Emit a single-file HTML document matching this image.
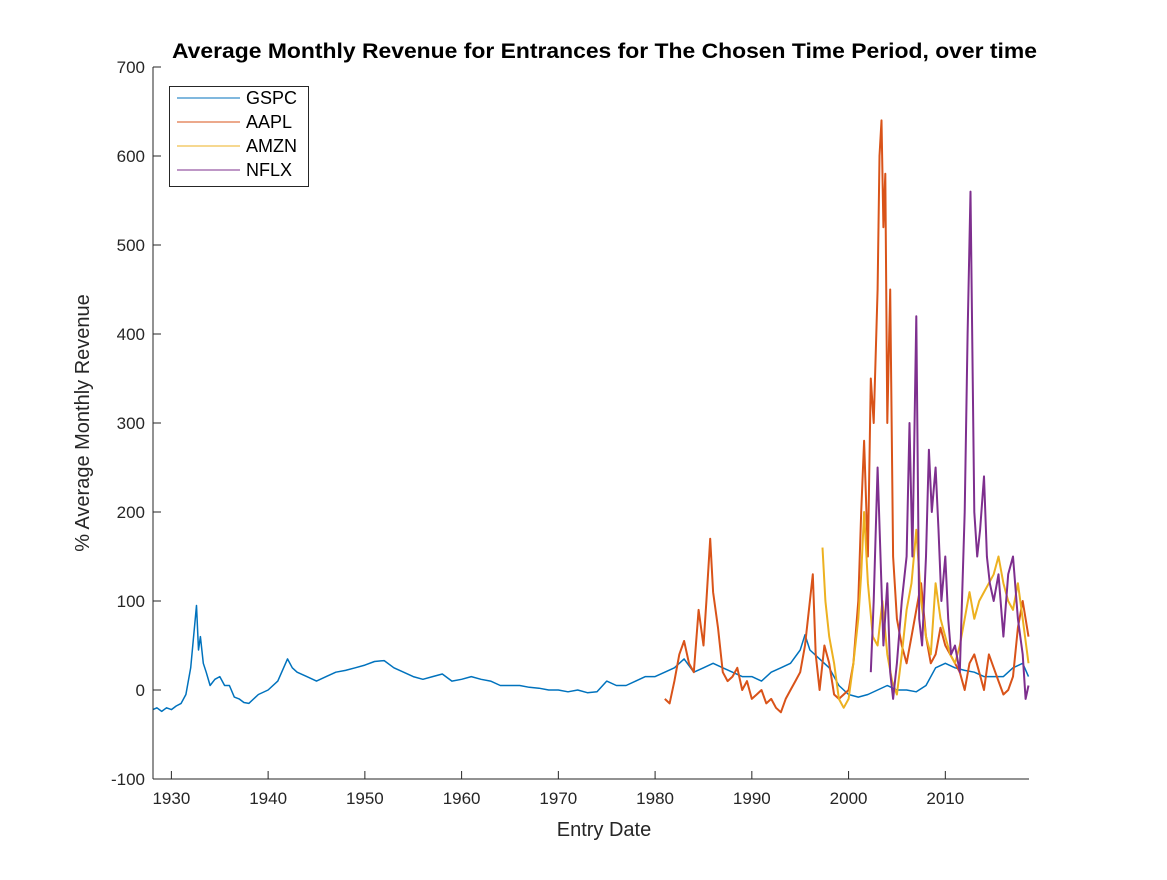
<!DOCTYPE html>
<html><head><meta charset="utf-8"><style>
body{margin:0;background:#fff;}
svg text{font-family:"Liberation Sans",Arial,sans-serif;fill:#262626;}
</style></head><body>
<svg id="chart" width="1167" height="875" viewBox="0 0 1167 875" xmlns="http://www.w3.org/2000/svg">
<rect width="1167" height="875" fill="#fff"/>
<text x="172" y="58" textLength="865" lengthAdjust="spacingAndGlyphs" font-size="21.5" font-weight="bold" style="fill:#000">Average Monthly Revenue for Entrances for The Chosen Time Period, over time</text>
<g id="series"></g>
<g id="axes"></g>
<text x="604" y="836" text-anchor="middle" font-size="20">Entry Date</text>
<text transform="translate(89,423) rotate(-90)" text-anchor="middle" font-size="20">% Average Monthly Revenue</text>
<g id="legend"></g>
</svg>
<script>
const xTicks=[1930,1940,1950,1960,1970,1980,1990,2000,2010];
const yTicks=[-100,0,100,200,300,400,500,600,700];
const seriesNames=["GSPC","AAPL","AMZN","NFLX"];
const gspcDates=[1928.1,1928.5,1929,1929.5,1930,1930.5,1931,1931.5,1932,1932.3,1932.6,1932.8,1933,1933.3,1933.6,1934,1934.5,1935,1935.5,1936,1936.5,1937,1937.5,1938,1939,1940,1941,1942,1942.5,1943,1944,1945,1946,1947,1948,1949,1950,1951,1952,1953,1954,1955,1956,1957,1958,1959,1960,1961,1962,1963,1964,1965,1966,1967,1968,1969,1970,1971,1972,1973,1974,1975,1976,1977,1978,1979,1980,1981,1982,1983,1984,1985,1986,1987,1988,1989,1990,1991,1992,1993,1994,1995,1995.5,1996,1997,1998,1999,2000,2001,2002,2003,2004,2005,2006,2007,2008,2009,2010,2011,2012,2013,2014,2015,2016,2017,2018,2018.6];
const gspcValues=[-22,-20,-24,-20,-22,-18,-15,-5,25,60,95,45,60,30,20,5,12,15,5,5,-8,-10,-14,-15,-5,0,10,35,25,20,15,10,15,20,22,25,28,32,33,25,20,15,12,15,18,10,12,15,12,10,5,5,5,3,2,0,0,-2,0,-3,-2,10,5,5,10,15,15,20,25,35,20,25,30,25,20,15,15,10,20,25,30,45,62,45,35,25,5,-5,-8,-5,0,5,0,0,-2,5,25,30,25,22,20,15,15,15,25,30,15];
const aaplDates=[1981,1981.5,1982,1982.5,1983,1983.5,1984,1984.5,1985,1985.3,1985.7,1986,1986.5,1987,1987.5,1988,1988.5,1989,1989.5,1990,1990.5,1991,1991.5,1992,1992.5,1993,1993.5,1994,1994.5,1995,1995.5,1996,1996.3,1996.6,1997,1997.5,1998,1998.5,1999,1999.5,2000,2000.5,2001,2001.3,2001.6,2002,2002.3,2002.6,2003,2003.2,2003.4,2003.6,2003.8,2004,2004.3,2004.6,2005,2005.5,2006,2006.5,2007,2007.5,2008,2008.5,2009,2009.5,2010,2010.5,2011,2011.5,2012,2012.5,2013,2013.5,2014,2014.5,2015,2015.5,2016,2016.5,2017,2017.5,2018,2018.6];
const aaplValues=[-10,-15,10,40,55,30,20,90,50,100,170,110,70,20,10,15,25,0,10,-10,-5,0,-15,-10,-20,-25,-10,0,10,20,50,100,130,40,0,50,30,-5,-10,-5,0,30,100,200,280,150,350,300,450,600,640,520,580,300,450,150,80,50,30,60,90,120,60,30,40,70,50,40,30,20,0,30,40,20,0,40,25,10,-5,0,15,70,100,60];
const amznDates=[1997.3,1997.6,1998,1998.5,1999,1999.5,2000,2000.5,2001,2001.3,2001.6,2002,2002.5,2003,2003.5,2004,2004.5,2005,2005.5,2006,2006.5,2007,2007.5,2008,2008.5,2009,2009.5,2010,2010.5,2011,2011.5,2012,2012.5,2013,2013.5,2014,2014.5,2015,2015.5,2016,2016.5,2017,2017.5,2018,2018.6];
const amznValues=[160,100,60,30,-10,-20,-10,30,80,130,200,120,60,50,100,40,10,-5,40,90,120,180,100,60,40,120,80,60,40,30,50,80,110,80,100,110,120,130,150,120,100,90,120,80,30];
const nflxDates=[2002.3,2002.6,2003,2003.3,2003.6,2004,2004.3,2004.6,2005,2005.5,2006,2006.3,2006.6,2007,2007.3,2007.6,2008,2008.3,2008.6,2009,2009.3,2009.6,2010,2010.3,2010.6,2011,2011.5,2012,2012.3,2012.6,2013,2013.3,2013.6,2014,2014.3,2014.6,2015,2015.5,2016,2016.5,2017,2017.5,2018,2018.3,2018.6];
const nflxValues=[20,100,250,150,50,120,20,-10,30,100,150,300,150,420,80,50,150,270,200,250,180,100,150,80,40,50,20,200,400,560,200,150,180,240,150,120,100,130,60,130,150,80,40,-10,5];

const L=153,R=1029,T=67,B=779;
const xMin=1928.1,xMax=2018.65,yMin=-100,yMax=700;
const sx=v=>L+(v-xMin)/(xMax-xMin)*(R-L);
const sy=v=>B-(v-yMin)/(yMax-yMin)*(B-T);
const NS="http://www.w3.org/2000/svg";
const colors=["#0072BD","#D95319","#EDB120","#7E2F8E"];
const allDates=[gspcDates,aaplDates,amznDates,nflxDates];
const allVals=[gspcValues,aaplValues,amznValues,nflxValues];
const sg=document.getElementById('series');
for(let s=0;s<4;s++){
  const p=document.createElementNS(NS,'polyline');
  p.setAttribute('points',allDates[s].map((d,i)=>sx(d).toFixed(1)+','+sy(allVals[s][i]).toFixed(1)).join(' '));
  p.setAttribute('fill','none');p.setAttribute('stroke',colors[s]);p.setAttribute('stroke-width',s==0?'1.5':'2');
  p.setAttribute('stroke-linejoin','round');
  
  
  sg.appendChild(p);
}
const ax=document.getElementById('axes');
let h=`<line x1="${L}" y1="${T}" x2="${L}" y2="${B}" stroke="#262626"/><line x1="${L}" y1="${B}" x2="${R}" y2="${B}" stroke="#262626"/>`;
xTicks.forEach(t=>{const x=sx(t);h+=`<line x1="${x}" y1="${B}" x2="${x}" y2="${B-8}" stroke="#262626"/><text x="${x}" y="${B+25}" text-anchor="middle" font-size="17">${t}</text>`;});
yTicks.forEach(t=>{const y=sy(t);h+=`<line x1="${L}" y1="${y}" x2="${L+8}" y2="${y}" stroke="#262626"/><text x="${L-8}" y="${y+6}" text-anchor="end" font-size="17">${t}</text>`;});
ax.innerHTML=h;
const lg=document.getElementById('legend');
let g=`<rect x="169.5" y="86.5" width="139" height="100" fill="#fff" stroke="#262626"/>`;
seriesNames.forEach((n,i)=>{const y=98+i*24;g+=`<line x1="177" y1="${y}" x2="240" y2="${y}" stroke="${colors[i]}" stroke-width="1"/><text x="246" y="${y+6}" font-size="18" style="fill:#000">${n}</text>`;});
lg.innerHTML=g;
</script>
</body></html>
